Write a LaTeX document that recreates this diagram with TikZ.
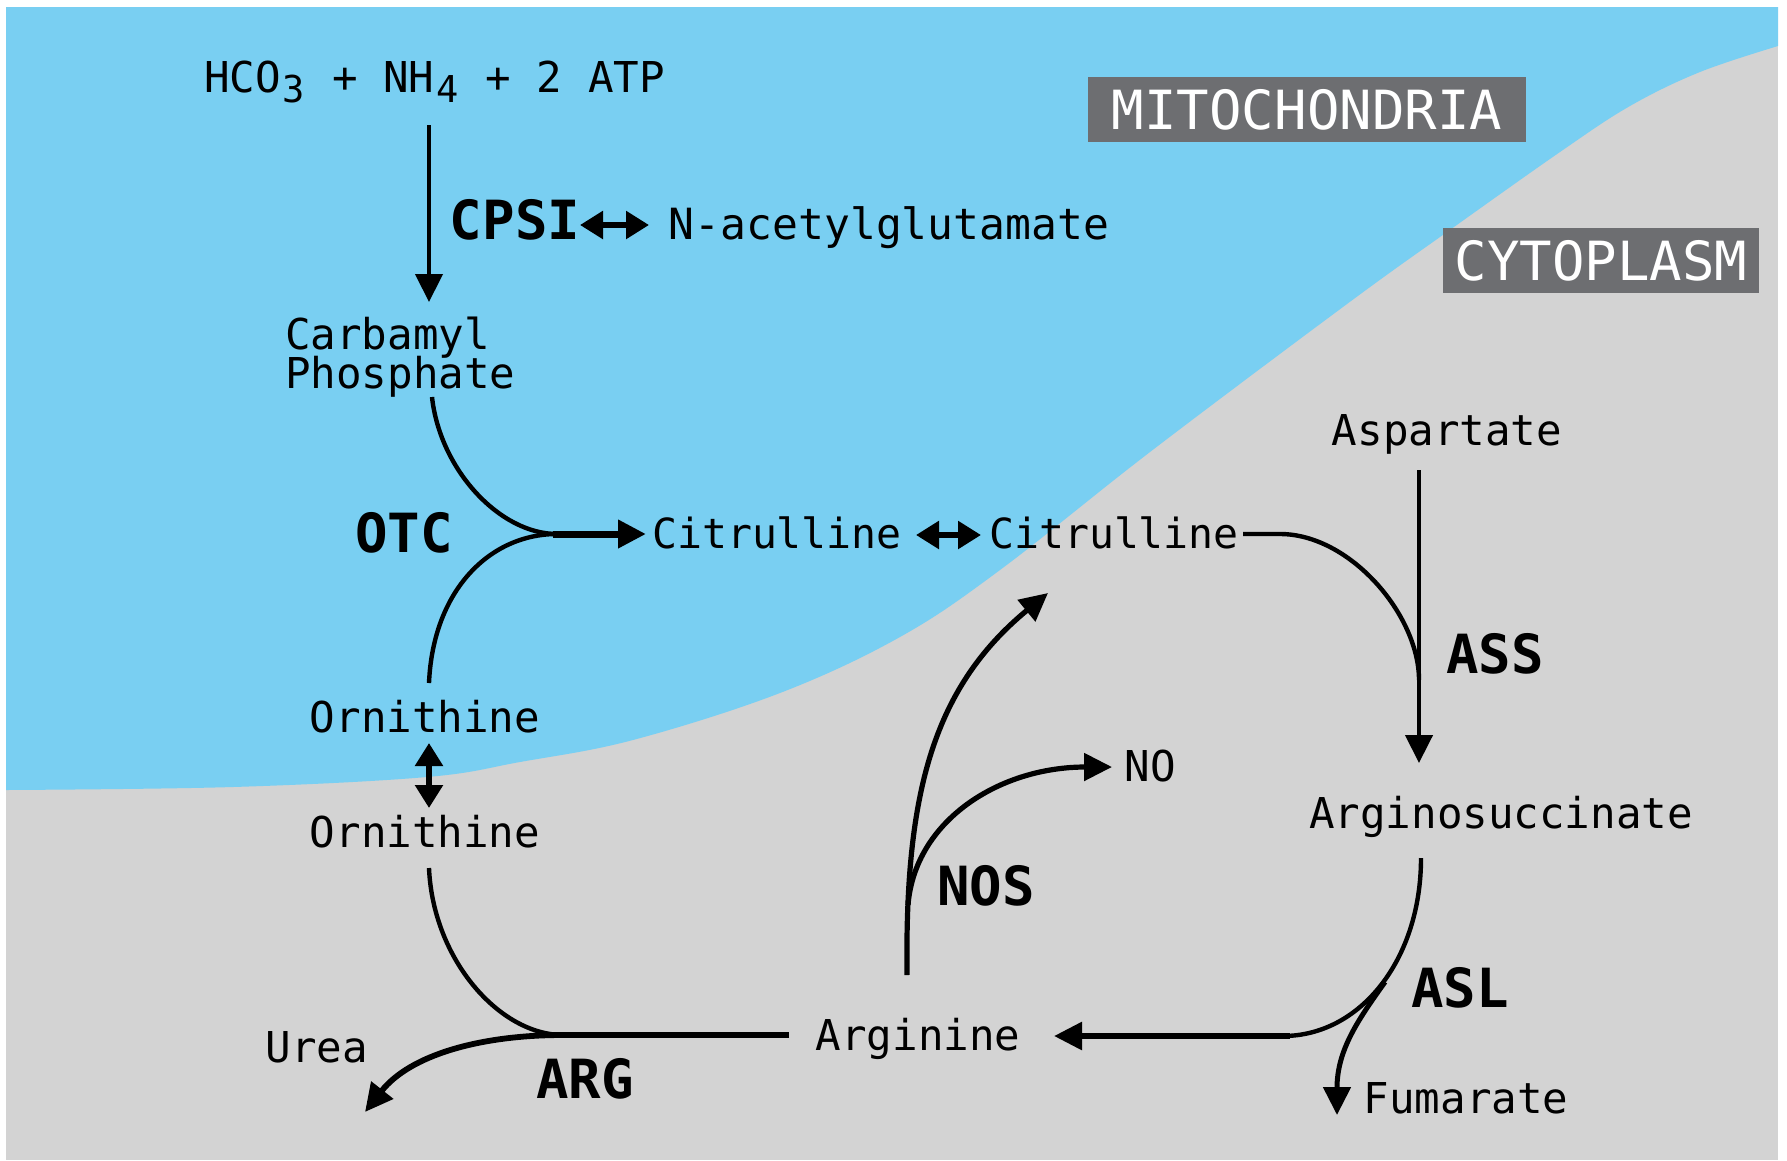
\documentclass[tikz,border=0pt]{standalone}
\usepackage{fontspec}
\newfontfamily\djmono{DejaVu Sans Mono}
\usetikzlibrary{arrows.meta}
\definecolor{mitoblue}{RGB}{121,207,242}
\definecolor{cytogray}{RGB}{211,211,211}
\definecolor{labelgray}{RGB}{109,110,113}
\newcommand{\chemsub}[1]{\makebox[25.6pt][c]{\raisebox{-10pt}{\fontsize{37}{37}\selectfont #1}}}
\tikzset{
  txt/.style={font=\djmono\fontsize{42.5}{42.5}\selectfont, inner sep=0pt, anchor=base},
  enz/.style={font=\djmono\bfseries\fontsize{54}{54}\selectfont, inner sep=0pt, anchor=base},
  region/.style={fill=labelgray, text=white, font=\djmono\fontsize{54}{54}\selectfont, inner sep=0pt},
  conn/.style={line width=4.4pt},
  heavy/.style={line width=5.8pt},
  merged/.style={line width=7pt},
  tipend/.style={-{Triangle[length=28pt,width=27pt]}},
  dblend/.style={{Triangle[length=23pt,width=27pt]}-{Triangle[length=23pt,width=27pt]}, line width=5.5pt}
}
\begin{document}
\begin{tikzpicture}[x=1pt,y=-1pt]
\useasboundingbox (0,0) rectangle (1787,1160);
\fill[white] (0,0) rectangle (1787,1160);
% compartments
\fill[cytogray] (6,7) rectangle (1778,1160);
\fill[mitoblue] (6,7) -- (1778,7) -- (1778,46) -- plot[smooth,tension=0.6] coordinates {(1778,46) (1700,72) (1630,106) (1560,152) (1447,232) (1347,304) (1150,452) (1000,570) (900,637) (780,693) (633,740) (520,762) (427,777) (233,787) (6,790)} -- cycle;

% region labels
\node[region, minimum width=438pt, minimum height=65pt] (mito) at (1307,109.5) {MITOCHONDRIA};
\node[region, minimum width=316pt, minimum height=65pt] (cyto) at (1601,260.5) {CYTOPLASM};

% metabolites
\node[txt, anchor=base west] (hco) at (204,92) {HCO\chemsub{3} + NH\chemsub{4} + 2 ATP};
\node[txt, font=\djmono\fontsize{43}{43}\selectfont] (nag) at (889,239) {N-acetylglutamate};
\node[txt, anchor=base west] (carbA) at (285,349) {Carbamyl};
\node[txt, anchor=base west] (carbB) at (285,388) {Phosphate};
\node[txt, font=\djmono\fontsize{41.5}{41.5}\selectfont] (cit1) at (777,548) {Citrulline};
\node[txt, font=\djmono\fontsize{41.5}{41.5}\selectfont] (cit2) at (1114,548) {Citrulline};
\node[txt] (asp) at (1447,445) {Aspartate};
\node[txt] (asuc) at (1501,828) {Arginosuccinate};
\node[txt] (fum) at (1466,1113) {Fumarate};
\node[txt] (argn) at (918,1050) {Arginine};
\node[txt] (urea) at (317,1062) {Urea};
\node[txt] (orn1) at (425,732) {Ornithine};
\node[txt] (orn2) at (425,847) {Ornithine};
\node[txt] (no) at (1150,781) {NO};

% enzymes
\node[enz] (cpsi) at (515,239) {CPSI};
\node[enz] (otc) at (404,552) {OTC};
\node[enz] (ass) at (1495,673) {ASS};
\node[enz] (asl) at (1460,1007) {ASL};
\node[enz] (arg) at (585,1098) {ARG};
\node[enz] (nos) at (986,905) {NOS};

% connector end points
\coordinate (hcoOut) at (429,125);
\coordinate (carbIn) at (429,302);
\coordinate (cpsiR) at (580,225);
\coordinate (nagL) at (649,225);
\coordinate (carbOut) at (432,397);
\coordinate (ornUpOut) at (429,683);
\coordinate (J1) at (557,534);
\coordinate (J1s) at (553,534);
\coordinate (cit1In) at (646,534);
\coordinate (cit1R) at (916,535);
\coordinate (cit2L) at (981,535);
\coordinate (cit2Out) at (1243,534);
\coordinate (cit2Bend) at (1280,534);
\coordinate (assMerge) at (1419,680);
\coordinate (aspOut) at (1419,470);
\coordinate (asucIn) at (1419,763);
\coordinate (asucOut) at (1421,858);
\coordinate (J3) at (1283,1036);
\coordinate (J3s) at (1290,1036);
\coordinate (argnIn) at (1054,1036);
\coordinate (fumStart) at (1385,982);
\coordinate (fumIn) at (1337,1115);
\coordinate (argnOut) at (789,1035);
\coordinate (J2) at (563,1035);
\coordinate (ornLowIn) at (429,868);
\coordinate (ureaIn) at (365,1112);
\coordinate (nosStart) at (907,975);
\coordinate (nosBranch) at (908,905);
\coordinate (citBack) at (1048,593);
\coordinate (noIn) at (1112,767);
\coordinate (ornA) at (429,743);
\coordinate (ornB) at (429,808);

% CPSI
\draw[conn, tipend] (hcoOut) -- (carbIn);
\draw[dblend] (cpsiR) -- (nagL);

% OTC
\draw[conn] (carbOut) .. controls (440,470) and (500,534) .. (J1);
\draw[conn] (ornUpOut) .. controls (433,590) and (490,534) .. (J1);
\draw[merged, tipend] (J1s) -- (cit1In);

% citrulline transport
\draw[dblend] (cit1R) -- (cit2L);

% ASS
\draw[conn] (cit2Out) -- (cit2Bend) .. controls (1350,534) and (1419,615) .. (assMerge);
\draw[conn, tipend] (aspOut) -- (asucIn);

% ASL
\draw[conn] (asucOut) .. controls (1421,960) and (1360,1036) .. (J3);
\draw[heavy, tipend] (J3s) -- (argnIn);
\draw[conn, line width=5pt, tipend] (fumStart) .. controls (1358,1020) and (1337,1050) .. (fumIn);

% ARG
\draw[heavy] (argnOut) -- (J2);
\draw[conn] (ornLowIn) .. controls (433,960) and (500,1035) .. (J2);
\draw[heavy, tipend] (J2) .. controls (480,1035) and (410,1055) .. (ureaIn);

% NOS
\draw[conn, line width=5.2pt, tipend] (nosStart) .. controls (905,800) and (930,690) .. (citBack);
\draw[conn, line width=5.2pt, tipend] (nosBranch) .. controls (915,820) and (1000,767) .. (noIn);

% ornithine transport
\draw[dblend] (ornA) -- (ornB);
\end{tikzpicture}
\end{document}
